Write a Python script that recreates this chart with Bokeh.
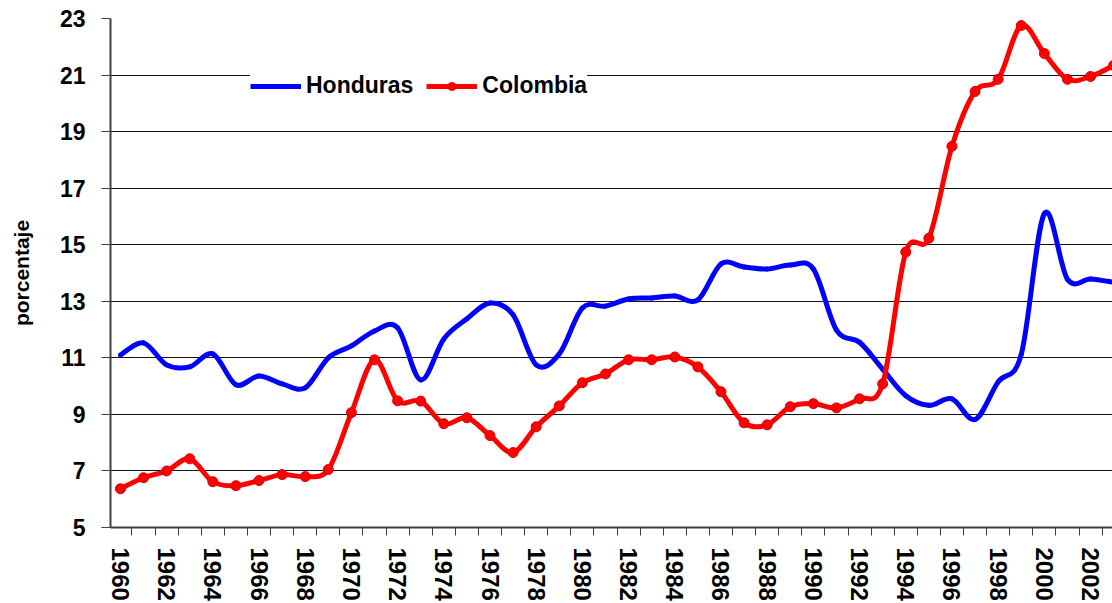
from bokeh.plotting import figure
from bokeh.models import (Range1d, FixedTicker, Legend, LegendItem, ColumnDataSource)
from bokeh.embed import file_html
from bokeh.resources import INLINE

# ---------------- data ----------------
years = list(range(1960, 2004))
honduras = [11.10, 11.53, 10.75, 10.68, 11.14, 10.05, 10.36, 10.08, 9.94, 11.00,
            11.42, 11.95, 12.06, 10.22, 11.67, 12.38, 12.94, 12.52, 10.75, 11.14,
            12.76, 12.83, 13.08, 13.12, 13.19, 13.05, 14.32, 14.21, 14.14, 14.28,
            14.14, 11.98, 11.55, 10.60, 9.66, 9.32, 9.55, 8.82, 10.15, 11.12,
            16.10, 13.78, 13.79, 13.67]
colombia = [6.37, 6.76, 7.00, 7.43, 6.62, 6.48, 6.66, 6.87, 6.80, 7.05,
            9.06, 10.93, 9.48, 9.47, 8.67, 8.88, 8.25, 7.65, 8.56, 9.30,
            10.12, 10.43, 10.93, 10.93, 11.03, 10.68, 9.80, 8.70, 8.63, 9.27,
            9.38, 9.23, 9.55, 10.08, 14.74, 15.23, 18.48, 20.42, 20.85, 22.75,
            21.76, 20.85, 20.95, 21.34]
series_names = ["Honduras", "Colombia"]
y_ticks = [5, 7, 9, 11, 13, 15, 17, 19, 21, 23]
x_label_years = list(range(1960, 2003, 2))

FONT = "Liberation Sans"
NAN = float("nan")


def smooth(xs, ys):
    """Bezier control points (Catmull-Rom style) for a smoothed line through the data."""
    n = len(xs)
    d = dict(x0=[], y0=[], x1=[], y1=[], cx0=[], cy0=[], cx1=[], cy1=[])
    for i in range(n - 1):
        xa, ya = (xs[i - 1], ys[i - 1]) if i > 0 else (xs[i], ys[i])
        xb, yb = xs[i], ys[i]
        xc, yc = xs[i + 1], ys[i + 1]
        xd, yd = (xs[i + 2], ys[i + 2]) if i + 2 < n else (xc, yc)
        d["x0"].append(xb); d["y0"].append(yb)
        d["x1"].append(xc); d["y1"].append(yc)
        d["cx0"].append(xb + (xc - xa) / 6.0); d["cy0"].append(yb + (yc - ya) / 6.0)
        d["cx1"].append(xc - (xd - xb) / 6.0); d["cy1"].append(yc - (yd - yb) / 6.0)
    return ColumnDataSource(d)


p = figure(width=1112, height=603, output_backend="svg", toolbar_location=None,
           x_range=Range1d(1959.57, 2002.95), y_range=Range1d(5, 23),
           min_border_left=110, min_border_right=0, min_border_top=18,
           min_border_bottom=75)
p.outline_line_color = None
p.background_fill_color = "white"
p.border_fill_color = "white"

# grid
p.xgrid.visible = False
p.ygrid.ticker = FixedTicker(ticks=y_ticks)
p.ygrid.grid_line_color = "#111111"
p.ygrid.grid_line_width = 1

# y axis
p.yaxis.ticker = FixedTicker(ticks=y_ticks)
p.yaxis.axis_label = "porcentaje"
p.yaxis.axis_label_text_font = FONT
p.yaxis.axis_label_text_font_style = "bold"
p.yaxis.axis_label_text_font_size = "21px"
p.yaxis.axis_label_text_color = "black"
p.yaxis.axis_label_standoff = 24
p.yaxis.major_label_text_font = FONT
p.yaxis.major_label_text_font_style = "bold"
p.yaxis.major_label_text_font_size = "23px"
p.yaxis.major_label_text_color = "black"
p.yaxis.major_label_standoff = 16
p.yaxis.major_tick_in = 0
p.yaxis.major_tick_out = 9
p.yaxis.minor_tick_line_color = None
p.yaxis.axis_line_color = "#404040"
p.yaxis.axis_line_width = 2
p.yaxis.major_tick_line_color = "#404040"

# x axis
p.xaxis.ticker = FixedTicker(ticks=x_label_years,
                             minor_ticks=[y - 0.5 for y in years] + [years[-1] + 0.5])
p.xaxis.major_label_orientation = "vertical"
p.xaxis.major_label_text_font = FONT
p.xaxis.major_label_text_font_style = "bold"
p.xaxis.major_label_text_font_size = "24px"
p.xaxis.major_label_text_color = "black"
p.xaxis.major_label_standoff = 12
p.xaxis.major_tick_in = 0
p.xaxis.major_tick_out = 0
p.xaxis.minor_tick_in = 0
p.xaxis.minor_tick_out = 8
p.xaxis.minor_tick_line_color = "#404040"
p.xaxis.axis_line_color = "#404040"
p.xaxis.axis_line_width = 2

# series
blue = "#0000FF"
red = "#FF0000"
p.bezier(x0="x0", y0="y0", x1="x1", y1="y1", cx0="cx0", cy0="cy0", cx1="cx1", cy1="cy1",
         source=smooth(years, honduras), line_color=blue, line_width=5, line_cap="round")
p.bezier(x0="x0", y0="y0", x1="x1", y1="y1", cx0="cx0", cy0="cy0", cx1="cx1", cy1="cy1",
         source=smooth(years, colombia), line_color=red, line_width=5, line_cap="round")
p.scatter(x=years, y=colombia, marker="circle", size=10, fill_color=red,
          line_color="#E00000", line_width=1)

# legend proxies (NaN data, nothing drawn in the plot)
lg_h = p.line(x=[NAN, NAN], y=[NAN, NAN], line_color=blue, line_width=5)
lg_c = p.line(x=[NAN, NAN], y=[NAN, NAN], line_color=red, line_width=5)
lg_m = p.scatter(x=[NAN], y=[NAN], marker="circle", size=10, fill_color=red,
                 line_color="#E00000")

legend = Legend(items=[LegendItem(label=series_names[0], renderers=[lg_h]),
                       LegendItem(label=series_names[1], renderers=[lg_c, lg_m])],
                orientation="horizontal", location=(140, 428))
legend.background_fill_color = "white"
legend.background_fill_alpha = 1.0
legend.border_line_color = None
legend.label_text_font = FONT
legend.label_text_font_style = "bold"
legend.label_text_font_size = "23px"
legend.label_text_color = "black"
legend.glyph_width = 51
legend.glyph_height = 20
legend.label_height = 26
legend.label_standoff = 5
legend.spacing = 13
legend.padding = 14
legend.margin = 0
p.add_layout(legend, "center")

open("out.html", "w").write(file_html(p, INLINE))
